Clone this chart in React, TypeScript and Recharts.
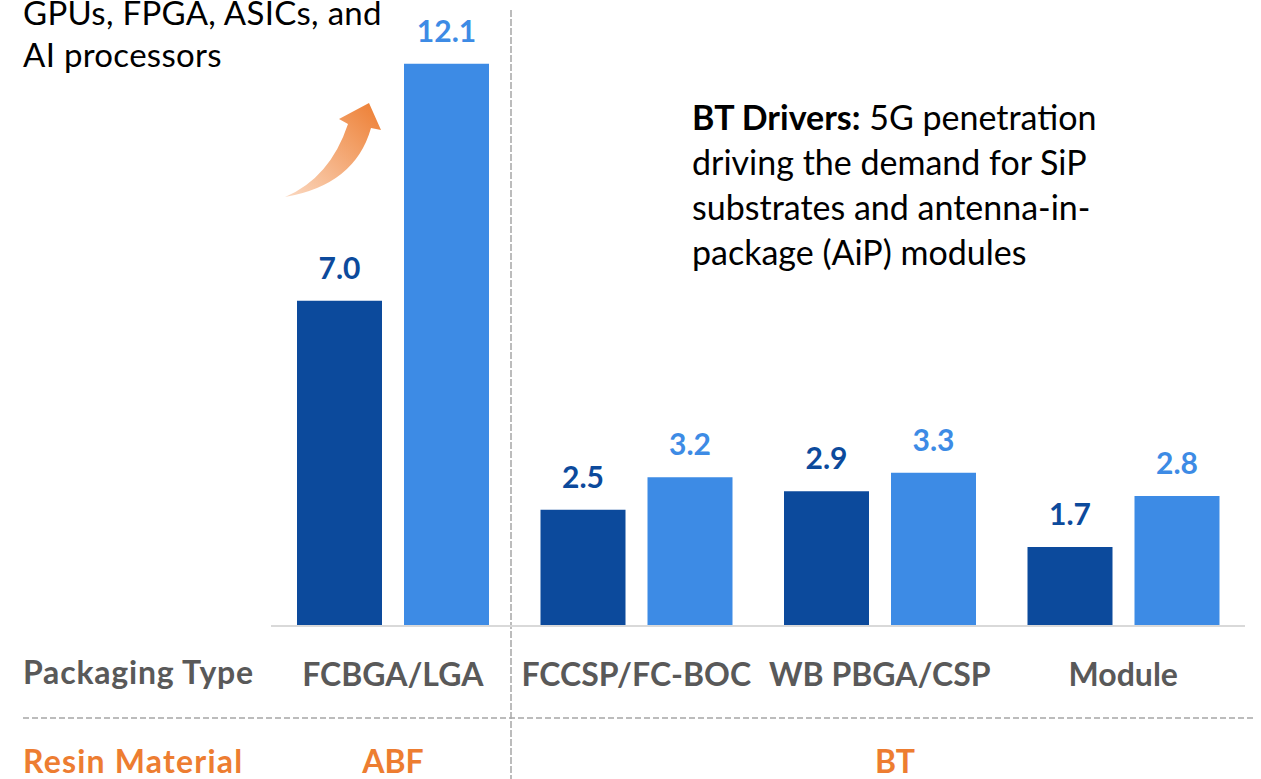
import { BarChart, Bar, XAxis, YAxis, LabelList, Customized } from 'recharts';

const categories = ['FCBGA/LGA', 'FCCSP/FC-BOC', 'WB PBGA/CSP', 'Module'];
const seriesA = [7.0, 2.5, 2.9, 1.7];
const seriesB = [12.1, 3.2, 3.3, 2.8];

const darkBlue = '#0C4A9C';
const lightBlue = '#3D8BE5';
const grey = '#595959';
const orange = '#ED7D31';

const data = categories.map((name, i) => ({ name, a: seriesA[i], b: seriesB[i] }));

const CategoryTick = ({ x, y, payload }: any) => (
    <text x={x} y={y + 60} textAnchor="middle" fill={grey} fontSize={32} fontWeight={700}>
        {payload.value}
    </text>
);

// decorations: notes, row titles, dashed dividers, growth arrow
const Overlay = () => (
    <g>
        <defs>
            <linearGradient id="arrowGrad" x1="0" y1="1" x2="1" y2="0">
                <stop offset="0%" stopColor="#FBD9C1" />
                <stop offset="100%" stopColor="#ED7D31" />
            </linearGradient>
        </defs>
        <line x1={511} y1={10} x2={511} y2={779} stroke="#A6A6A6" strokeWidth={1.5} strokeDasharray="7 2" />
        <line x1={23} y1={718} x2={1255} y2={718} stroke="#A6A6A6" strokeWidth={1.5} strokeDasharray="6 3" />

        <g fontSize={33} fill="#000" letterSpacing={0.3}>
            <text x={23} y={25}>GPUs, FPGA, ASICs, and</text>
            <text x={23} y={67}>AI processors</text>
        </g>

        <g fontSize={34} fill="#000">
            <text x={692} y={130}>
                <tspan fontWeight={700}>BT Drivers:</tspan> 5G penetration
            </text>
            <text x={692} y={175}>driving the demand for SiP</text>
            <text x={692} y={220}>substrates and antenna-in-</text>
            <text x={692} y={265}>package (AiP) modules</text>
        </g>

        <text x={23} y={684} fontSize={32} fontWeight={700} fill={grey} letterSpacing={0.8}>Packaging Type</text>
        <text x={23} y={773} fontSize={32} fontWeight={700} fill={orange} letterSpacing={1.2}>Resin Material</text>
        <text x={393} y={773} fontSize={32} fontWeight={700} fill={orange} textAnchor="middle">ABF</text>
        <text x={895} y={773} fontSize={32} fontWeight={700} fill={orange} textAnchor="middle">BT</text>

        <path
            d="M285,197 Q330,178 348,124 L339,119 L369,103 L381,130 L371,128 Q355,185 285,197 Z"
            fill="url(#arrowGrad)"
        />
    </g>
);

export default function App() {
    return (
        <div style={{ position: 'absolute', left: 0, top: 0, width: 1261, height: 779, fontFamily: 'Lato, sans-serif', background: '#fff' }}>
            <BarChart
                width={1261}
                height={779}
                data={data}
                barSize={85}
                barGap={22}
                margin={{ top: 22, right: 16, bottom: 0, left: 271 }}
            >
                <XAxis
                    dataKey="name"
                    height={153}
                    tickLine={false}
                    tickSize={0}
                    tickMargin={0}
                    axisLine={{ stroke: '#D9D9D9', strokeWidth: 2 }}
                    tick={<CategoryTick />}
                    interval={0}
                />
                <YAxis hide domain={[0, 13]} />
                <Bar dataKey="a" fill={darkBlue} isAnimationActive={false}>
                    <LabelList dataKey="a" position="top" offset={22} fill={darkBlue} fontSize={30} fontWeight={700}
                        formatter={(v: any) => Number(v).toFixed(1)} />
                </Bar>
                <Bar dataKey="b" fill={lightBlue} isAnimationActive={false}>
                    <LabelList dataKey="b" position="top" offset={22} fill={lightBlue} fontSize={30} fontWeight={700}
                        formatter={(v: any) => Number(v).toFixed(1)} />
                </Bar>
                <Customized component={Overlay} />
            </BarChart>
        </div>
    );
}
